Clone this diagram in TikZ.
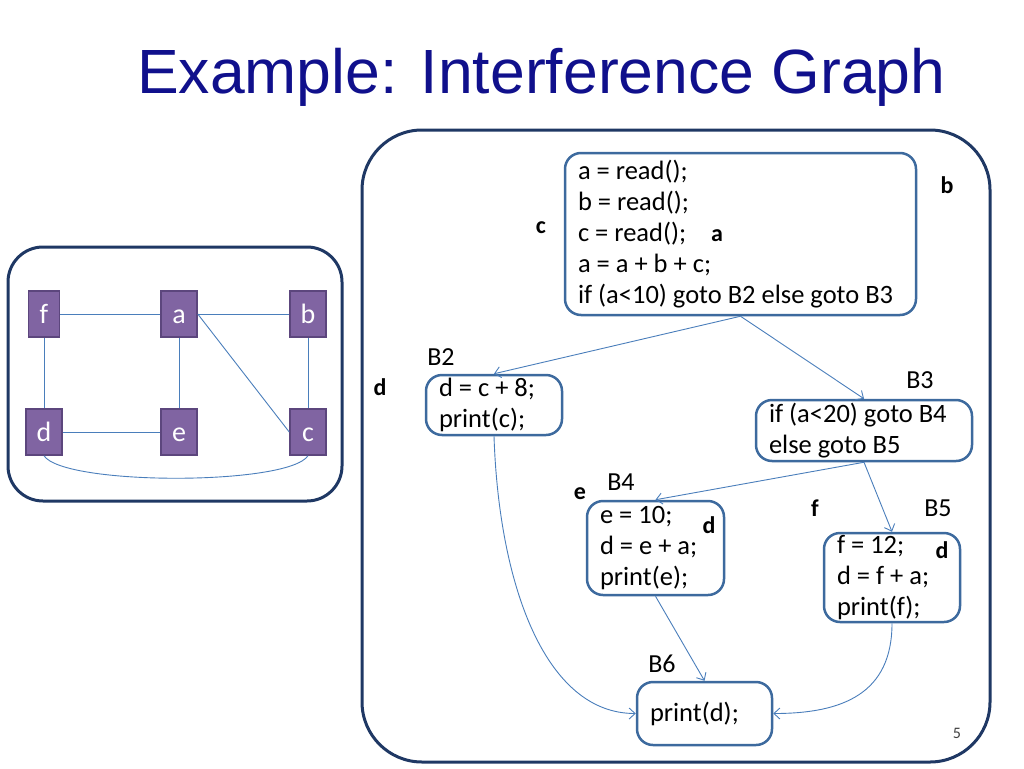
\documentclass[tikz,border=0pt]{standalone}
\usepackage{fontspec}
\setmainfont{Carlito}
\newfontfamily\titlefont{Liberation Sans}
\usetikzlibrary{arrows.meta}
\definecolor{titleblue}{RGB}{16,16,140}
\definecolor{framenavy}{RGB}{31,56,100}
\definecolor{boxblue}{RGB}{61,106,158}
\definecolor{edgeblue}{RGB}{74,126,187}
\definecolor{nodepurple}{RGB}{128,100,162}
\definecolor{nodeborder}{RGB}{92,70,125}
\tikzset{
  frame/.style={
    draw=framenavy,
    line width=3pt,
    rounded corners=#1
  },
  gnode/.style={
    rectangle,
    fill=nodepurple,
    draw=nodeborder,
    line width=1.5pt,
    text=white,
    minimum width=36pt,
    minimum height=46pt,
    text height=18pt,
    text depth=0pt,
    inner sep=0pt,
    font=\fontsize{28}{30}\selectfont
  },
  block/.style={
    rectangle,
    draw=boxblue,
    line width=2.5pt,
    rounded corners=16pt,
    fill=white,
    align=flush left,
    inner xsep=13pt,
    inner ysep=2pt,
    font=\fontsize{26.5}{31}\selectfont
  },
  blklabel/.style={font=\fontsize{26}{30}\selectfont, inner sep=0pt},
  varlabel/.style={font=\fontsize{24}{28}\selectfont\bfseries, inner sep=0pt},
  gedge/.style={draw=edgeblue, line width=0.9pt},
  flow/.style={-{Straight Barb[length=6pt,width=11pt]}, draw=edgeblue, line width=0.9pt}
}

\begin{document}
\begin{tikzpicture}[x=1pt,y=-1pt]
\useasboundingbox (0,0) rectangle (1024,768);

\node[anchor=base west, inner sep=0pt, text=titleblue,
  font=\titlefont\fontsize{62.5}{70}\selectfont] (title) at (137,93)
  {Example: Interference Graph};

% interference graph
\draw[frame=35pt] (8,247) rectangle (342,501);

\node[gnode, minimum width=31pt] (f) at (44,314) {f};
\node[gnode] (a) at (179,314) {a};
\node[gnode] (b) at (308,314) {b};
\node[gnode] (d) at (44,432) {d};
\node[gnode] (e) at (179,432) {e};
\node[gnode] (c) at (308,432) {c};

\draw[gedge] (f) -- (a);
\draw[gedge] (a) -- (b);
\draw[gedge] (f) -- (d);
\draw[gedge] (a) -- (e);
\draw[gedge] (b) -- (c);
\draw[gedge] (d) -- (e);
\draw[gedge] (a.east) -- (c.west);
\draw[gedge] (d.south) .. controls +(20,30) and +(-20,30) .. (c.south);

% control flow graph
\draw[frame=60pt] (362,130) rectangle (990,762);

\node[block, text width=325pt, minimum height=162pt] (b1) at (740.5,234) {%
  a = read();\\
  b = read();\\
  c = read();\\
  a = a + b + c;\\
  if (a<10) goto B2 else goto B3%
};

\node[block, text width=110pt, minimum height=60pt] (b2) at (494,405) {%
  d = c + 8;\\
  print(c);%
};

\node[block, text width=190pt, minimum height=61pt] (b3) at (864,430.5) {%
  if (a<20) goto B4\\
  else goto B5%
};

\node[block, text width=111pt, minimum height=94pt] (b4) at (655.5,548) {%
  e = 10;\\
  d = e + a;\\
  print(e);%
};

\node[block, text width=110pt, minimum height=89pt] (b5) at (892,577.5) {%
  f = 12;\\
  d = f + a;\\
  print(f);%
};

\node[block, text width=109pt, minimum height=63pt] (b6) at (704.5,713.5) {%
  print(d);%
};

% block names
\node[blklabel] (lb2) at (441,357) {B2};
\node[blklabel] (lb3) at (920,380) {B3};
\node[blklabel] (lb4) at (621,482) {B4};
\node[blklabel] (lb5) at (938,508) {B5};
\node[blklabel] (lb6) at (662,664) {B6};

% live variables
\node[varlabel] (vc) at (541,228) {c};
\node[varlabel] (va) at (717,236) {a};
\node[varlabel] (vb) at (947,185) {b};
\node[varlabel] (vd) at (380,387) {d};
\node[varlabel] (ve) at (580,494) {e};
\node[varlabel] (vd4) at (709,525) {d};
\node[varlabel] (vf) at (815,508) {f};
\node[varlabel] (vd5) at (942,550) {d};

% edges
\draw[flow] (b1.south) -- (b2.north);
\draw[flow] (b1.south) -- (b3.north);
\draw[flow] (b3.south) -- (b4.north);
\draw[flow] (b3.south) -- (b5.north);
\draw[flow] (b4.south) -- (b6.north);
\draw[flow] (b2.south) .. controls +(5,150) and +(-90,0) .. (b6.west);
\draw[flow] (b5.south) .. controls +(0,70) and +(70,0) .. (b6.east);

\node[inner sep=0pt, text=black!75, font=\fontsize{16}{18}\selectfont] (pg) at (957,733) {5};

\end{tikzpicture}
\end{document}
